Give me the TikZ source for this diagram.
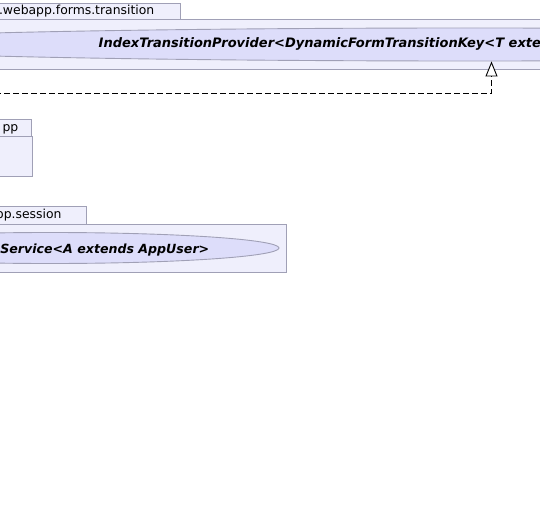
\documentclass[tikz,border=0pt]{standalone}
\usepackage{fontspec}
\setmainfont{DejaVu Sans}[BoldFont={DejaVu Sans Bold}, ItalicFont={DejaVu Sans Oblique}, BoldItalicFont={DejaVu Sans Bold Oblique}]
\usetikzlibrary{arrows.meta,shapes.geometric}
\definecolor{pkgfill}{RGB}{239,239,252}
\definecolor{classfill}{RGB}{221,221,250}
\definecolor{pkgline}{RGB}{160,160,182}
\begin{document}
\begin{tikzpicture}[x=1pt, y=-1pt,
  pkgbox/.style={draw=pkgline, fill=pkgfill, line width=0.9pt},
  classoval/.style={ellipse, draw=pkgline, fill=classfill, line width=0.9pt, inner sep=0pt},
  tablabel/.style={anchor=base east, inner sep=0pt, font=\fontsize{12.4}{14}\selectfont},
  classname/.style={inner sep=0pt, font=\fontsize{12.6}{15}\selectfont\bfseries\itshape},
  realize/.style={draw=black, line width=0.9pt, dash pattern=on 6pt off 3pt, -{Triangle[open, fill=white, length=15pt, width=12pt]}}]
\useasboundingbox (0,0) rectangle (540,524);
\clip (0,0) rectangle (540,524);
\fill[white] (0,0) rectangle (540,524);
\draw[pkgbox] (-5,3) rectangle (180,19);
\draw[pkgbox] (-5,19) rectangle (560,69);
\node[tablabel] (transitiontab) at (154.5,15) {.webapp.forms.transition};
\node[classoval, minimum width=1330, minimum height=33] (provider) at (470,44.5) {};
\node[classname, anchor=base west, font=\fontsize{13}{15}\selectfont\bfseries\itshape] (providername) at (98.5,47.3) {IndexTransitionProvider<DynamicFormTransitionKey<T exte};
\coordinate (implsrc) at (-5,93.5);
\coordinate (impltrn) at (491.5,93.5);
\draw[realize] (implsrc) -- (impltrn) -- (impltrn |- provider.south);
\draw[pkgbox] (-5,119.5) rectangle (31,136);
\draw[pkgbox] (-5,136) rectangle (32,176);
\node[tablabel] (apptab) at (18.5,131.5) {pp};
\draw[pkgbox] (-5,206.7) rectangle (86,224);
\draw[pkgbox] (-5,224) rectangle (286.5,272.5);
\node[tablabel] (sessiontab) at (61.7,218.7) {pp.session};
\node[classoval, minimum width=458, minimum height=31] (session) at (50,248) {};
\node[classname, anchor=base east] (sessionname) at (209.5,253) {Service<A extends AppUser>};
\end{tikzpicture}
\end{document}
